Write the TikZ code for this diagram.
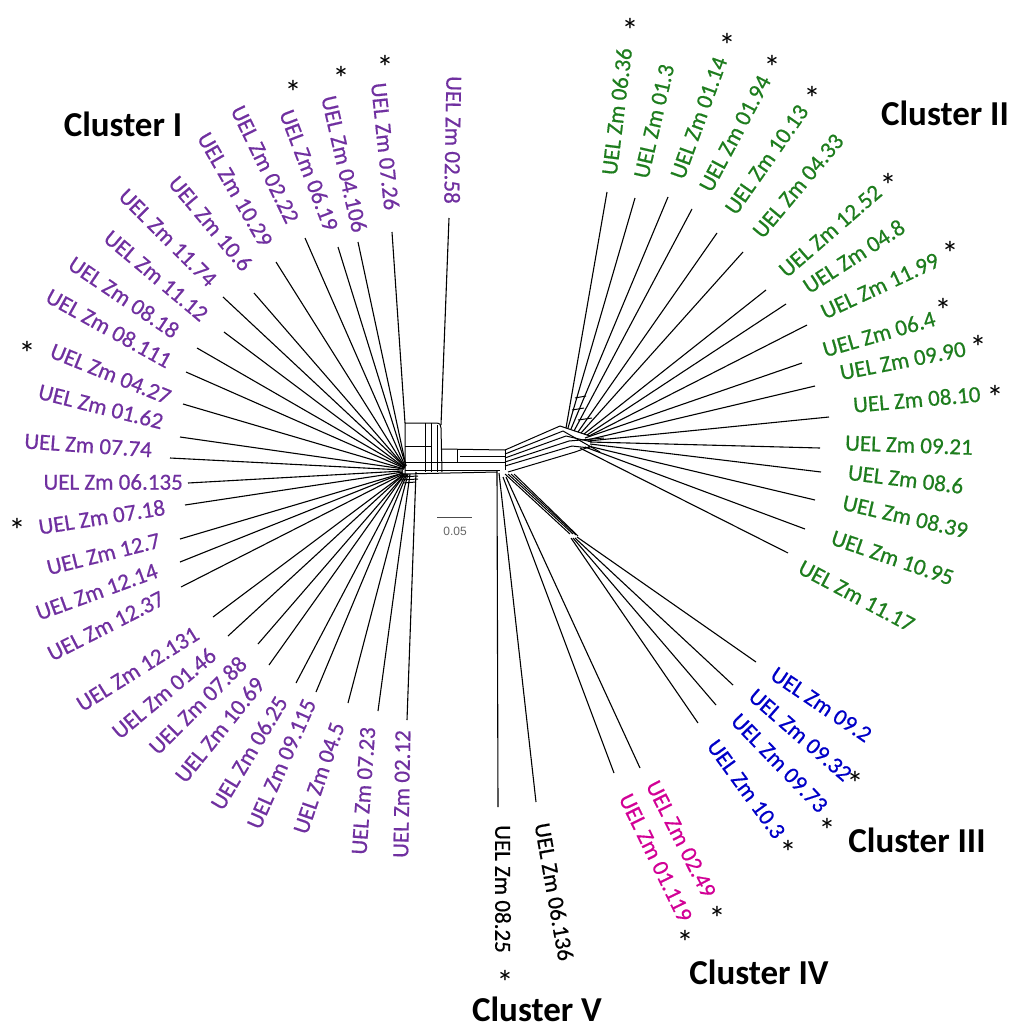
\documentclass[tikz,border=0pt]{standalone}
\usepackage{fontspec}
\setmainfont{Carlito}
\newfontfamily\labfont[FakeBold=0.6]{Carlito}
\newfontfamily\scalebarfont{Liberation Sans}
\definecolor{cI}{RGB}{112,48,160}
\definecolor{cII}{RGB}{30,125,30}
\definecolor{cIII}{RGB}{0,0,200}
\definecolor{cIV}{RGB}{210,0,150}
\newcommand{\mkleaf}[8]{%
  \coordinate (o#1) at (#7);
  \coordinate (i#1) at (#8);
  \draw[leaf] (i#1) -- (o#1);
  \node[lab,#3,anchor=#4,rotate=#6] (n#1) at (#5) {#2};
}
\begin{document}
\begin{tikzpicture}[x=1pt,y=-1pt,
  leaf/.style={line width=1.1pt,black},
  net/.style={line width=1pt,black},
  lab/.style={inner sep=0pt,font=\labfont\fontsize{23}{26}\selectfont},
  ast/.style={inner sep=0pt,font=\fontsize{34}{36}\selectfont},
  clus/.style={inner sep=0pt,font=\fontsize{35}{40}\selectfont\bfseries}]
\path[use as bounding box, fill=white] (0,0) rectangle (1013,1028);

% ---- Cluster I ----
\mkleaf{a1}{UEL Zm 02.58}{cI}{east}{452,204}{-91}{449,218}{441,425}
\mkleaf{a2}{UEL Zm 07.26}{cI}{east}{392,210}{-84}{392,232}{405,423}
\mkleaf{a3}{UEL Zm 04.106}{cI}{east}{360,232}{-77}{358,242}{406,466}
\mkleaf{a4}{UEL Zm 06.19}{cI}{east}{332,230}{-69}{338,247}{406,466}
\mkleaf{a5}{UEL Zm 02.22}{cI}{east}{293,222}{-64}{305,238}{405,466}
\mkleaf{a6}{UEL Zm 10.29}{cI}{east}{267,245}{-60}{276,262}{405,467}
\mkleaf{a7}{UEL Zm 10.6}{cI}{east}{248,268}{-50}{254,293}{405,467}
\mkleaf{a8}{UEL Zm 11.74}{cI}{east}{213,283}{-45}{223,297}{405,467}
\mkleaf{a9}{UEL Zm 11.12}{cI}{east}{205,317}{-40}{224,332}{405,468}
\mkleaf{a10}{UEL Zm 08.18}{cI}{east}{177,333}{-34}{197,348}{405,468}
\mkleaf{a11}{UEL Zm 08.111}{cI}{east}{170,362}{-29}{186,372}{404,468}
\mkleaf{a12}{UEL Zm 04.27}{cI}{east}{170,398}{-22}{183,404}{404,469}
\mkleaf{a13}{UEL Zm 01.62}{cI}{east}{163,422}{-14}{180,437}{404,469}
\mkleaf{a14}{UEL Zm 07.74}{cI}{east}{152,450}{-4}{170,458}{403,470}
\mkleaf{a15}{UEL Zm 06.135}{cI}{east}{183,482}{0}{188,483}{403,471}
\mkleaf{a16}{UEL Zm 07.18}{cI}{east}{165,507}{9}{185,505}{403,472}
\mkleaf{a17}{UEL Zm 12.7}{cI}{east}{160,540}{14}{180,539}{403,473}
\mkleaf{a18}{UEL Zm 12.14}{cI}{east}{157,570}{20}{180,562}{403,473}
\mkleaf{a19}{UEL Zm 12.37}{cI}{east}{163,597}{27}{181,587}{403,474}
\mkleaf{a20}{UEL Zm 12.131}{cI}{east}{197,632}{32}{213,617}{404,474}
\mkleaf{a21}{UEL Zm 01.46}{cI}{east}{213,652}{40}{228,636}{404,474}
\mkleaf{a22}{UEL Zm 07.88}{cI}{east}{243,660}{45}{258,644}{405,474}
\mkleaf{a23}{UEL Zm 10.69}{cI}{east}{260,680}{51}{269,665}{405,474}
\mkleaf{a24}{UEL Zm 06.25}{cI}{east}{282,698}{59}{296,683}{406,474}
\mkleaf{a25}{UEL Zm 09.115}{cI}{east}{310,700}{66}{316,692}{407,474}
\mkleaf{a26}{UEL Zm 04.5}{cI}{east}{338,723}{71}{348,703}{408,474}
\mkleaf{a27}{UEL Zm 07.23}{cI}{east}{368,727}{86}{378,711}{410,474}
\mkleaf{a28}{UEL Zm 02.12}{cI}{east}{403,730}{89}{407,720}{416,472}

% ---- Cluster II ----
\mkleaf{b1}{UEL Zm 06.36}{cII}{west}{609,175}{83}{607,192}{566,428}
\mkleaf{b2}{UEL Zm 01.3}{cII}{west}{641,178}{77}{635,198}{568,428}
\mkleaf{b3}{UEL Zm 01.14}{cII}{west}{677,178}{70}{668,197}{571,429}
\mkleaf{b4}{UEL Zm 01.94}{cII}{west}{705,190}{62}{692,209}{574,431}
\mkleaf{b5}{UEL Zm 10.13}{cII}{west}{730,212}{55}{717,233}{578,432}
\mkleaf{b6}{UEL Zm 04.33}{cII}{west}{757,235}{50}{743,252}{581,433}
\mkleaf{b7}{UEL Zm 12.52}{cII}{west}{782,273}{41}{766,290}{584,434}
\mkleaf{b8}{UEL Zm 04.8}{cII}{west}{805,288}{33}{786,304}{587,435}
\mkleaf{b9}{UEL Zm 11.99}{cII}{west}{822,313}{25}{807,325}{589,436}
\mkleaf{b10}{UEL Zm 06.4}{cII}{west}{823,350}{16}{802,363}{585,438}
\mkleaf{b11}{UEL Zm 09.90}{cII}{west}{840,373}{11}{815,386}{587,440}
\mkleaf{b12}{UEL Zm 08.10}{cII}{west}{853,405}{5}{829,417}{588,441}
\mkleaf{b13}{UEL Zm 09.21}{cII}{west}{845,443}{-2}{820,448}{590,442}
\mkleaf{b14}{UEL Zm 08.6}{cII}{west}{848,472}{-7}{821,472}{590,444}
\mkleaf{b15}{UEL Zm 08.39}{cII}{west}{843,502}{-13}{815,500}{588,446}
\mkleaf{b16}{UEL Zm 10.95}{cII}{west}{832,537}{-19}{805,529}{585,447}
\mkleaf{b17}{UEL Zm 11.17}{cII}{west}{800,566}{-28}{788,553}{580,448}

% ---- Cluster III ----
\mkleaf{c1}{UEL Zm 09.2}{cIII}{west}{773,672}{-34}{756,662}{577,537}
\mkleaf{c2}{UEL Zm 09.32}{cIII}{west}{752,693}{-41}{733,685}{575,538}
\mkleaf{c3}{UEL Zm 09.73}{cIII}{west}{735,717}{-46}{716,705}{573,538}
\mkleaf{c4}{UEL Zm 10.3}{cIII}{west}{712,742}{-54}{698,723}{571,538}

% ---- Cluster IV ----
\mkleaf{d1}{UEL Zm 02.49}{cIV}{west}{652,782}{-63}{640,768}{506,477}
\mkleaf{d2}{UEL Zm 01.119}{cIV}{west}{625,795}{-64}{614,773}{503,477}

% ---- Cluster V ----
\mkleaf{e1}{UEL Zm 08.25}{black}{west}{503,825}{-90}{498,807}{497,471}
\mkleaf{e2}{UEL Zm 06.136}{black}{west}{542,823}{-80}{536,802}{499,473}

% ---- central network ----
\draw[net] (405,474) -- (405,423) -- (436,423) .. controls (440,423) and (441,425) .. (441,428) -- (442,472);
\draw[net] (425,423) -- (425,472);
\draw[net] (431,423) -- (431,472);
\draw[net] (437,425) -- (437,472);
\draw[net] (405,446) -- (431,446);
\draw[net] (405,462) -- (442,462);
\draw[net] (403,474) -- (497,472);
\draw[net] (405,470) -- (500,470);
\draw[net] (442,449) -- (505,450);
\draw[net] (442,462) -- (505,462);
\draw[net] (457,449) -- (457,462);
\draw[net] (460,456) -- (505,456);
\draw[net] (505,450) -- (505,470);
\draw[net] (400,477) -- (418,476);
\draw[net] (401,480) -- (418,479);
\draw[net] (403,483) -- (416,482);
% rising band
\draw[net] (505,450) -- (560,426);
\draw[net] (505,454) -- (563,431);
\draw[net] (505,458) -- (566,436);
\draw[net] (505,462) -- (569,441);
\draw[net] (505,466) -- (572,446);
\draw[net] (508,472) -- (575,452);
\draw[net] (560,426) -- (590,436);
\draw[net] (566,436) -- (592,442);
\draw[net] (572,446) -- (590,448);
\draw[net] (575,452) -- (592,446);
\draw[net] (563,431) -- (600,452);
\draw[net] (569,441) -- (604,438);
\draw[net] (572,410) -- (584,408);
\draw[net] (575,398) -- (586,396);
\draw[net] (578,420) -- (592,418);
% bottom bundle
\draw[net] (505,474) -- (570,534);
\draw[net] (508,474) -- (573,534);
\draw[net] (511,474) -- (576,535);
\draw[net] (514,474) -- (578,536);

% ---- scale bar ----
\coordinate (sb1) at (437,517);
\coordinate (sb2) at (472,517);
\draw[line width=1pt,black!70] (sb1) -- (sb2);
\node[inner sep=0pt,font=\scalebarfont\fontsize{12}{14}\selectfont,text=black!60] (sblab) at (455,531) {0.05};

% ---- asterisks ----
\foreach \p [count=\k] in {(293,92),(341,78),(385,67),(27,353),(17,530),
  (630,30),(727,45),(772,67),(812,98),(888,185),(950,253),(943,310),(978,347),(995,397),
  (855,783),(827,830),(788,852),(717,918),(685,942),(505,982)}
  \node[ast] (ast\k) at \p {*};

% ---- cluster titles ----
\node[clus] (t1) at (123,124) {Cluster I};
\node[clus] (t2) at (945,113) {Cluster II};
\node[clus] (t3) at (917,840) {Cluster III};
\node[clus] (t4) at (759,972) {Cluster IV};
\node[clus] (t5) at (537,1009) {Cluster V};
\end{tikzpicture}
\end{document}
